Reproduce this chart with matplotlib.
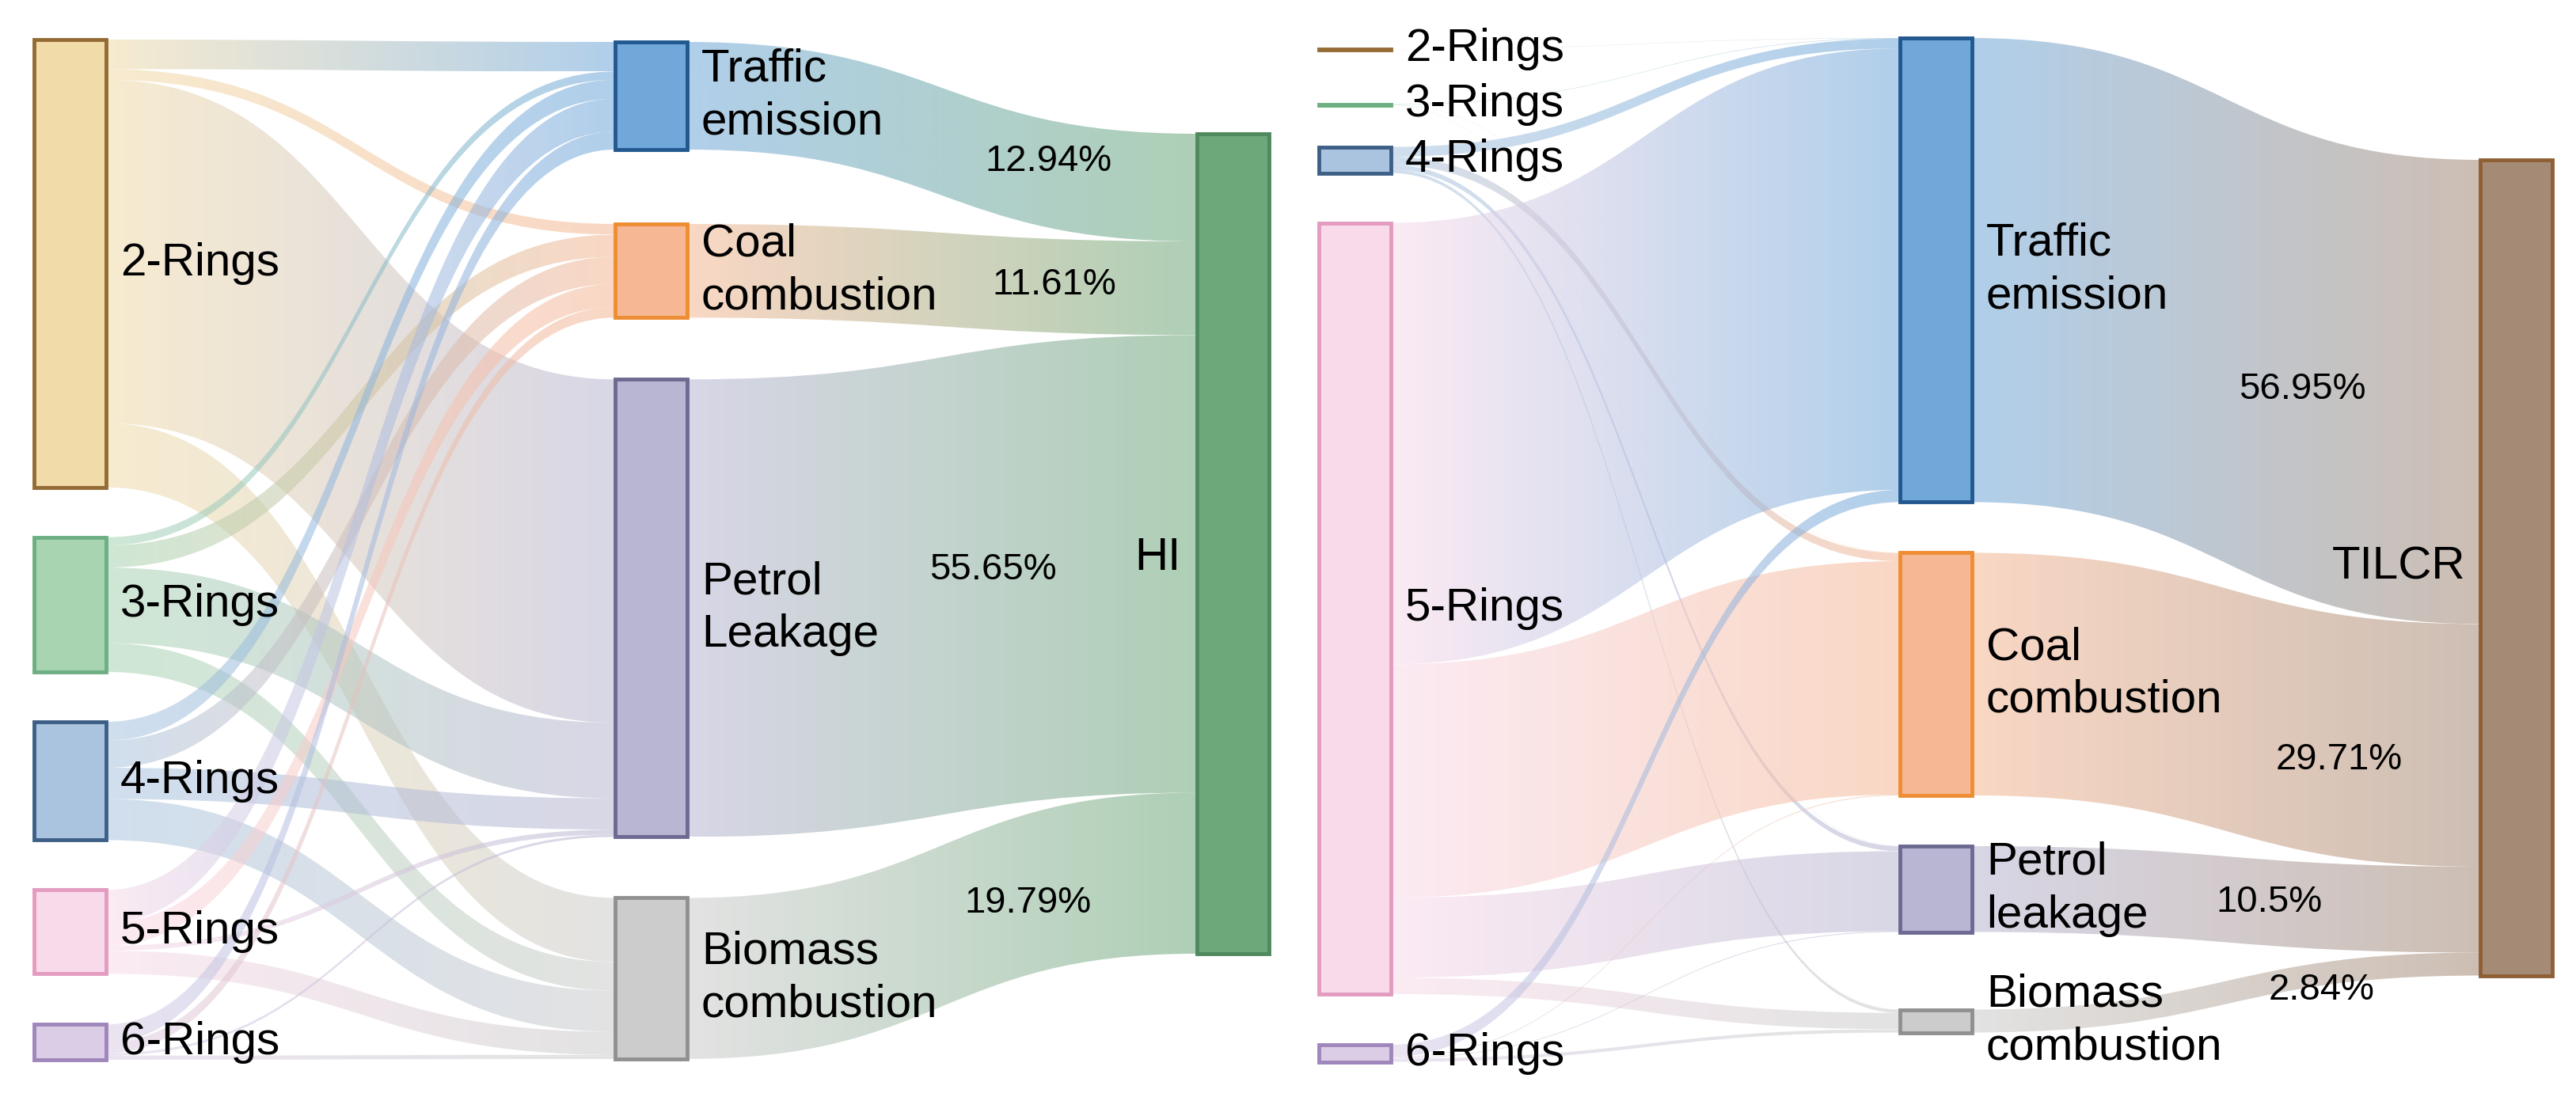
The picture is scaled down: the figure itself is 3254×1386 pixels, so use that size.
import numpy as np
import matplotlib
matplotlib.use("Agg")
import matplotlib.pyplot as plt
from matplotlib.path import Path
from matplotlib.patches import PathPatch, Rectangle
from matplotlib.colors import to_rgb

plt.rcParams['font.family'] = ['Liberation Sans', 'DejaVu Sans']

################################################################################
# data (share in %, rows = rings, columns = source categories)

rings = ["2-Rings", "3-Rings", "4-Rings", "5-Rings", "6-Rings"]

hi_sources = ["Traffic\nemission", "Coal\ncombustion", "Petrol\nLeakage", "Biomass\ncombustion"]
hi_flows = [
    [3.6, 1.3, 41.8, 7.8],
    [1.0, 2.7, 9.2, 3.5],
    [2.3, 3.3, 3.8, 5.0],
    [4.0, 2.8, 0.6, 2.8],
    [2.2, 1.3, 0.3, 0.5],
]
hi_share = ["12.94%", "11.61%", "55.65%", "19.79%"]

tilcr_sources = ["Traffic\nemission", "Coal\ncombustion", "Petrol\nleakage", "Biomass\ncombustion"]
tilcr_flows = [
    [0.03, 0.01, 0.01, 0.005],
    [0.05, 0.02, 0.02, 0.01],
    [1.2, 1.0, 0.6, 0.4],
    [54.1, 28.6, 9.8, 2.0],
    [1.5, 0.1, 0.1, 0.4],
]
tilcr_share = ["56.95%", "29.71%", "10.5%", "2.84%"]

################################################################################
# styles

ring_fill = ["#F1DBA9", "#A8D4B2", "#AAC4E0", "#F9DAEA", "#DCCDE6"]
ring_edge = ["#946B35", "#6DAF82", "#3D5F86", "#E39BC0", "#9F86BB"]
src_fill = ["#70A8DA", "#F5B794", "#B8B6D2", "#CCCCCC"]
src_edge = ["#22588F", "#EE8D33", "#6C6A92", "#909090"]

LINK_ALPHA = 0.55
LABEL_SIZE = 42
PCT_SIZE = 34

left_layout = dict(x=[43, 777, 1512], w=91, scale=10.38,
                   ring_top=50, ring_gaps=[63, 63, 63, 64],
                   cat_top=53, cat_gaps=[94, 78, 77], target_top=169,
                   pct_xy=[(1324, 204), (1332, 360), (1254, 720), (1298, 1141)],
                   target_xy=(1492, 705))
right_layout = dict(x=[1666, 2400, 3133], w=91, scale=10.31,
                    ring_top=62, ring_gaps=[69, 53, 63, 64],
                    cat_top=48, cat_gaps=[64, 64, 98], target_top=202,
                    pct_xy=[(2908, 492), (2955, 960), (2866, 1140), (2933, 1251)],
                    target_xy=(3114, 716))

################################################################################

def draw_link(ax, xa, xb, ya0, ya1, yb0, yb1, c0, c1):
    xm = (xa + xb) / 2
    verts = [(xa, ya0), (xm, ya0), (xm, yb0), (xb, yb0),
             (xb, yb1), (xm, yb1), (xm, ya1), (xa, ya1), (xa, ya0)]
    codes = [Path.MOVETO, Path.CURVE4, Path.CURVE4, Path.CURVE4,
             Path.LINETO, Path.CURVE4, Path.CURVE4, Path.CURVE4, Path.CLOSEPOLY]
    patch = PathPatch(Path(verts, codes), facecolor="none", edgecolor="none")
    ax.add_patch(patch)
    t = np.linspace(0, 1, 256)[None, :, None]
    rgb = (1 - t) * np.array(to_rgb(c0)) + t * np.array(to_rgb(c1))
    img = np.concatenate([rgb, np.full((1, 256, 1), LINK_ALPHA)], axis=2)
    lo, hi = min(ya0, yb0), max(ya1, yb1)
    im = ax.imshow(img, extent=(xa, xb, hi, lo), aspect="auto",
                   interpolation="bilinear", zorder=1)
    im.set_clip_path(patch)


def stack(top, heights, gaps):
    tops = [top]
    for h, g in zip(heights[:-1], gaps):
        tops.append(tops[-1] + h + g)
    return tops


def draw_node(ax, x, y, w, h, fill, edge):
    ax.add_patch(Rectangle((x, y), w, h, facecolor=fill, edgecolor=edge,
                           linewidth=3.5, zorder=3))


def draw_panel(ax, flows, cat_labels, shares, target, target_fill, target_edge, lay):
    flows = np.array(flows, dtype=float)
    s = lay["scale"]
    w = lay["w"]
    x0, x1, x2 = lay["x"]

    ring_h = flows.sum(axis=1) * s
    cat_h = flows.sum(axis=0) * s
    ring_y = stack(lay["ring_top"], ring_h, lay["ring_gaps"])
    cat_y = stack(lay["cat_top"], cat_h, lay["cat_gaps"])
    tgt_y = lay["target_top"]

    # rings -> categories
    out_off = list(ring_y)
    in_off = list(cat_y)
    for i in range(len(rings)):
        for j in range(len(cat_labels)):
            h = flows[i, j] * s
            draw_link(ax, x0 + w, x1, out_off[i], out_off[i] + h,
                      in_off[j], in_off[j] + h, ring_fill[i], src_fill[j])
            out_off[i] += h
            in_off[j] += h

    # categories -> target
    t_off = tgt_y
    for j in range(len(cat_labels)):
        h = cat_h[j]
        draw_link(ax, x1 + w, x2, cat_y[j], cat_y[j] + h, t_off, t_off + h,
                  src_fill[j], target_fill)
        t_off += h

    for i, name in enumerate(rings):
        draw_node(ax, x0, ring_y[i], w, ring_h[i], ring_fill[i], ring_edge[i])
        ax.text(x0 + w + 18, ring_y[i] + ring_h[i] / 2, name, fontsize=LABEL_SIZE,
                ha="left", va="center", zorder=4)

    for j, name in enumerate(cat_labels):
        draw_node(ax, x1, cat_y[j], w, cat_h[j], src_fill[j], src_edge[j])
        ax.text(x1 + w + 18, cat_y[j] + cat_h[j] / 2, name, fontsize=LABEL_SIZE,
                ha="left", va="center", linespacing=1.3, zorder=4)
        px, py = lay["pct_xy"][j]
        ax.text(px, py, shares[j], fontsize=PCT_SIZE, ha="center", va="center", zorder=4)

    draw_node(ax, x2, tgt_y, w, cat_h.sum(), target_fill, target_edge)
    tx, ty = lay["target_xy"]
    ax.text(tx, ty, target, fontsize=LABEL_SIZE, ha="right", va="center", zorder=4)

################################################################################

fig = plt.figure(figsize=(32.55, 13.86), dpi=100)
ax = fig.add_axes([0, 0, 1, 1])

draw_panel(ax, hi_flows, hi_sources, hi_share, "HI", "#6CA87A", "#4E8A5E", left_layout)
draw_panel(ax, tilcr_flows, tilcr_sources, tilcr_share, "TILCR", "#A58A76", "#8E5F34", right_layout)

ax.set_xlim(0, 3255)
ax.set_ylim(1386, 0)
ax.axis("off")

fig.savefig("out.png", dpi=100, facecolor="white")
